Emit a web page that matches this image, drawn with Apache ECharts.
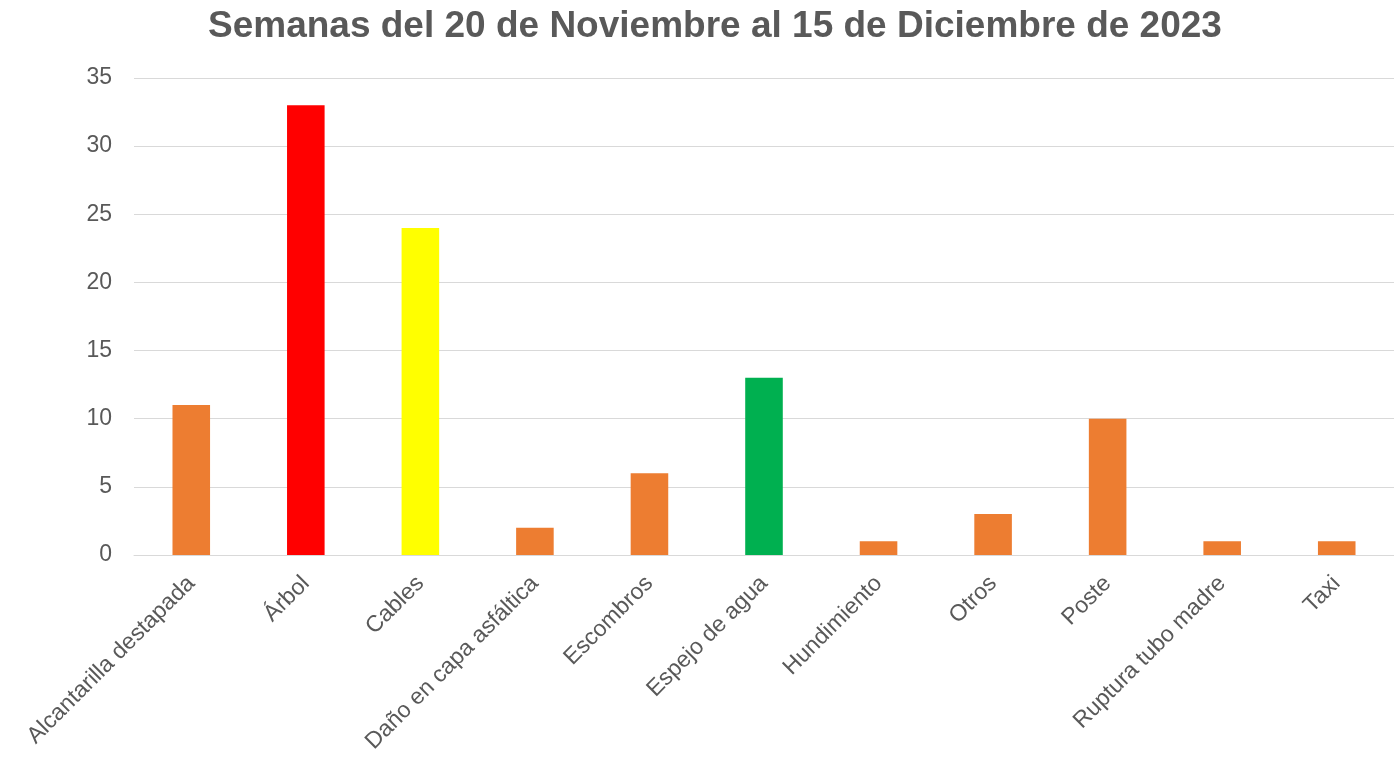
<!DOCTYPE html>
<html>
<head>
<meta charset="utf-8">
<script src="https://cdn.jsdelivr.net/npm/echarts@6/dist/echarts.min.js"></script>
<style>
  html, body { margin: 0; padding: 0; background: #fff; }
  #chart { width: 1394px; height: 759px; }
</style>
</head>
<body>
<div id="chart"></div>
<script>
const categories = [
  'Alcantarilla destapada', 'Árbol', 'Cables', 'Daño en capa asfáltica',
  'Escombros', 'Espejo de agua', 'Hundimiento', 'Otros', 'Poste',
  'Ruptura tubo madre', 'Taxi'
];
const values = [11, 33, 24, 2, 6, 13, 1, 3, 10, 1, 1];
const barColors = [
  '#ED7D31', '#FF0000', '#FFFF00', '#ED7D31', '#ED7D31', '#00B050',
  '#ED7D31', '#ED7D31', '#ED7D31', '#ED7D31', '#ED7D31'
];
const yTicks = [0, 5, 10, 15, 20, 25, 30, 35];

const FONT = '"Liberation Sans", Arial, sans-serif';
const chart = echarts.init(document.getElementById('chart'), null, { renderer: 'canvas' });
chart.setOption({
  animation: false,
  backgroundColor: '#ffffff',
  textStyle: { fontFamily: FONT },
  title: {
    text: 'Semanas del 20 de Noviembre al 15 de Diciembre de 2023',
    left: 208,
    top: 8,
    padding: 0,
    textStyle: {
      fontFamily: FONT,
      fontSize: 37,
      fontWeight: 'bold',
      color: '#595959'
    }
  },
  // the category band runs a little past the right edge of the canvas
  grid: { left: 134, right: -14, top: 78, bottom: 204, containLabel: false },
  xAxis: {
    type: 'category',
    data: categories,
    axisLine: { show: true, lineStyle: { color: '#D9D9D9', width: 1 } },
    axisTick: { show: false },
    axisLabel: {
      rotate: 45,
      interval: 0,
      margin: 25,
      align: 'right',
      verticalAlign: 'middle',
      fontSize: 23,
      color: '#595959',
      fontFamily: FONT
    }
  },
  yAxis: {
    type: 'value',
    min: yTicks[0],
    max: yTicks[yTicks.length - 1],
    interval: 5,
    axisLine: { show: false },
    axisTick: { show: false },
    splitLine: { lineStyle: { color: '#D9D9D9', width: 1 } },
    axisLabel: {
      fontSize: 23,
      color: '#595959',
      margin: 22,
      fontFamily: FONT
    }
  },
  series: [{
    type: 'bar',
    data: values.map((v, i) => ({ value: v, itemStyle: { color: barColors[i] } })),
    barWidth: '32.8%'
  }]
});
</script>
</body>
</html>
